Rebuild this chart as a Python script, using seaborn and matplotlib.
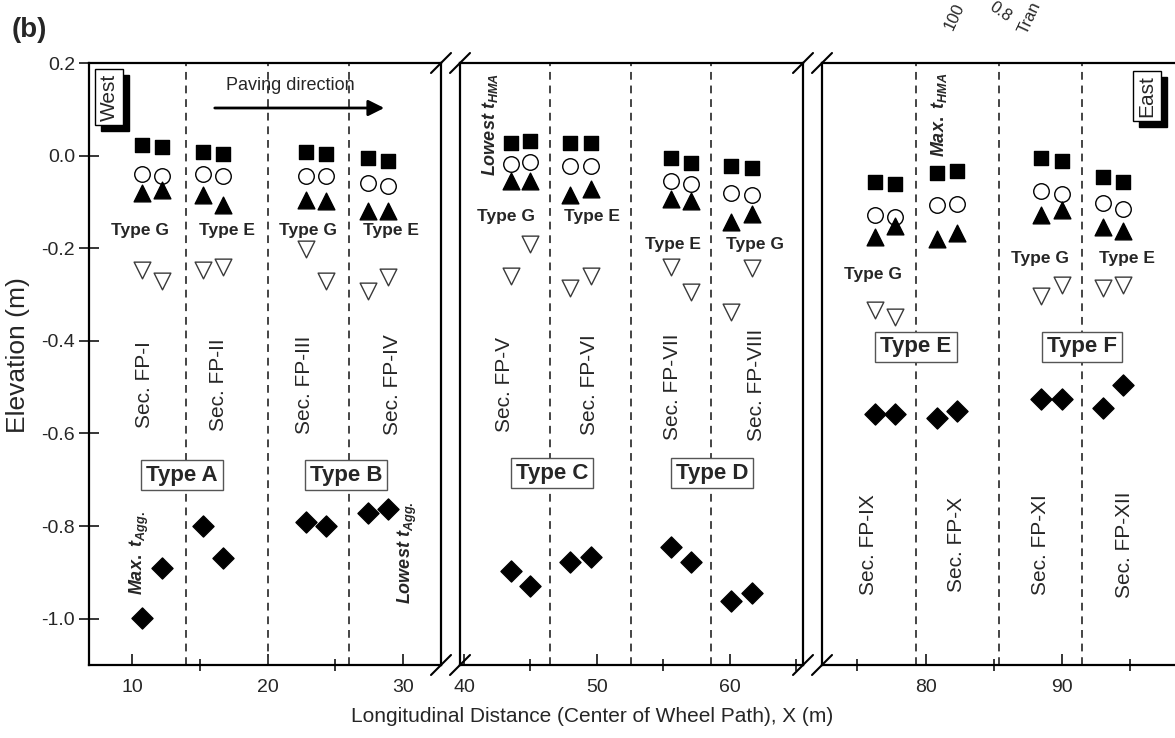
import numpy as np
import pandas as pd
import matplotlib
matplotlib.use("Agg")
import matplotlib.pyplot as plt
import seaborn as sns
from matplotlib.lines import Line2D
from matplotlib.patches import Rectangle, FancyArrowPatch
from matplotlib.ticker import FixedLocator, FormatStrFormatter

# ---------------- data ----------------
sections = ["FP-I", "FP-II", "FP-III", "FP-IV", "FP-V", "FP-VI", "FP-VII", "FP-VIII",
            "FP-IX", "FP-X", "FP-XI", "FP-XII"]
x_pos = [10.7, 12.2, 15.2, 16.7, 22.8, 24.3, 27.4, 28.9,
         43.5, 45.0, 48.0, 49.55, 55.55, 57.1, 60.1, 61.65,
         76.25, 77.75, 80.8, 82.3, 88.45, 90.0, 93.0, 94.5]
elev_square = [0.024, 0.018, 0.007, 0.004, 0.007, 0.004, -0.005, -0.011,
               0.027, 0.031, 0.027, 0.027, -0.006, -0.016, -0.022, -0.027,
               -0.058, -0.061, -0.037, -0.034, -0.006, -0.012, -0.047, -0.058]
elev_circle = [-0.040, -0.045, -0.040, -0.045, -0.043, -0.043, -0.060, -0.065,
               -0.018, -0.014, -0.023, -0.023, -0.054, -0.061, -0.081, -0.085,
               -0.128, -0.132, -0.107, -0.104, -0.077, -0.083, -0.103, -0.115]
elev_tri_up = [-0.081, -0.074, -0.085, -0.106, -0.096, -0.099, -0.119, -0.120,
               -0.054, -0.054, -0.086, -0.072, -0.094, -0.099, -0.144, -0.126,
               -0.175, -0.151, -0.180, -0.168, -0.128, -0.117, -0.155, -0.162]
elev_tri_down = [-0.247, -0.270, -0.247, -0.240, -0.202, -0.270, -0.292, -0.263,
                 -0.259, -0.190, -0.286, -0.259, -0.240, -0.294, -0.337, -0.243,
                 -0.334, -0.348, np.nan, np.nan, -0.303, -0.279, -0.286, -0.279]
elev_diamond = [-0.998, -0.891, -0.800, -0.868, -0.791, -0.800, -0.771, -0.764,
                -0.896, -0.930, -0.878, -0.867, -0.845, -0.877, -0.961, -0.944,
                -0.557, -0.559, -0.566, -0.551, -0.526, -0.526, -0.544, -0.495]
section_bounds = [14, 20, 26, 46.5, 52.55, 58.6, 79.3, 85.35, 91.45]
y_ticks = [-1.0, -0.8, -0.6, -0.4, -0.2, 0.0, 0.2]

df = pd.DataFrame({"x": x_pos, "square": elev_square, "circle": elev_circle,
                   "tri_up": elev_tri_up, "tri_down": elev_tri_down,
                   "diamond": elev_diamond})

# ---------------- style ----------------
sns.set_style("ticks")
plt.rcParams["font.family"] = ["Liberation Sans", "DejaVu Sans"]
plt.rcParams["axes.unicode_minus"] = False
plt.rcParams["mathtext.fontset"] = "custom"
plt.rcParams["mathtext.it"] = "Liberation Sans:italic:bold"
plt.rcParams["mathtext.rm"] = "Liberation Sans:bold"
plt.rcParams["mathtext.bf"] = "Liberation Sans:bold"

W, H = 1175, 738
fig = plt.figure(figsize=(W / 100, H / 100), dpi=100)


def fx(px):
    return px / W


def fy(py):
    return 1 - py / H


TOP, BOT = 63, 665
panels = [
    (89, 441, (6.8, 32.8), [10, 20, 30], [15, 25]),
    (460, 803, (39.7, 65.5), [40, 50, 60], [45, 55, 65]),
    (822, 1176, (72.4, 98.35), [80, 90], [75, 85, 95]),
]

series = [
    ("square", "s", "black", "black", 100),
    ("circle", "o", "white", "black", 125),
    ("tri_up", "^", "black", "black", 145),
    ("tri_down", "v", "white", "#3a3a3a", 145),
    ("diamond", "D", "black", "black", 115),
]

axes = []
for i, (l, r, xlim, majors, minors) in enumerate(panels):
    ax = fig.add_axes([fx(l), fy(BOT), (r - l) / W, (BOT - TOP) / H])
    sub = df[(df.x > xlim[0]) & (df.x < xlim[1])]
    for col, m, fc, ec, s in series:
        sns.scatterplot(data=sub, x="x", y=col, marker=m, s=s, color=fc,
                        edgecolor=ec, linewidth=1.0, ax=ax, legend=False, zorder=3)
    for b in section_bounds:
        if xlim[0] < b < xlim[1]:
            ax.axvline(b, color="#444444", lw=1.4, ls=(0, (4, 3)), zorder=1)
    ax.set_xlim(*xlim)
    ax.set_ylim(-1.1, 0.2)
    ax.set_xlabel("")
    ax.set_ylabel("")
    ax.xaxis.set_major_locator(FixedLocator(majors))
    ax.xaxis.set_minor_locator(FixedLocator(minors))
    ax.tick_params(axis="x", which="major", direction="in", length=8, width=1.3,
                   labelsize=14, pad=10, top=False)
    ax.tick_params(axis="x", which="minor", direction="inout", length=9, width=1.3,
                   top=False)
    if i == 0:
        ax.set_yticks(y_ticks)
        ax.yaxis.set_major_formatter(FormatStrFormatter("%.1f"))
        ax.tick_params(axis="y", direction="inout", length=14, width=1.3,
                       labelsize=14, pad=3, right=False)
    else:
        ax.set_yticks([])
    for sp in ax.spines.values():
        sp.set_linewidth(1.6)
        sp.set_color("black")
        sp.set_visible(True)
    if i == 2:
        ax.spines["right"].set_visible(False)
    axes.append(ax)

# break marks
for bx in [441, 460, 803, 822]:
    for by in [TOP, BOT]:
        fig.add_artist(Line2D([fx(bx - 10), fx(bx + 10)], [fy(by + 10), fy(by - 10)],
                              transform=fig.transFigure, color="black", lw=1.5))

# axis labels
fig.text(fx(18), fy(355), "Elevation (m)", rotation=90, ha="center", va="center",
         fontsize=19)
fig.text(fx(592), fy(717), "Longitudinal Distance (Center of Wheel Path), X (m)",
         ha="center", va="center", fontsize=15)
fig.text(fx(12), fy(30), "(b)", ha="left", va="center", fontsize=20, fontweight="bold")

# top-right fragments of neighbouring figure
fig.text(fx(955), fy(17), "100", rotation=65, ha="center", va="center", fontsize=12)
fig.text(fx(1000), fy(12), "0.8", rotation=-35, ha="center", va="center", fontsize=12)
fig.text(fx(1030), fy(18), "Tran", rotation=65, ha="center", va="center", fontsize=12)

# type labels (small bold)
type_small = [("Type G", 140, 230), ("Type E", 227, 230), ("Type G", 308, 230),
              ("Type E", 391, 230), ("Type G", 506, 217), ("Type E", 592, 217),
              ("Type E", 673, 245), ("Type G", 755, 245), ("Type G", 873, 275),
              ("Type G", 1040, 258), ("Type E", 1127, 258)]
for t, px, py in type_small:
    fig.text(fx(px), fy(py), t, ha="center", va="center", fontsize=12.5,
             fontweight="bold")

# section labels
sec_pos = [(145, 385), (218, 385), (305, 385), (392, 385), (505, 385), (590, 385),
           (672, 387), (757, 385), (868, 545), (957, 545), (1041, 545), (1125, 545)]
for name, (px, py) in zip(sections, sec_pos):
    fig.text(fx(px), fy(py), "Sec. " + name, rotation=90, ha="center", va="center",
             fontsize=15)

# boxed type labels
type_box = [("Type A", 182, 475), ("Type B", 346, 475), ("Type C", 552, 473),
            ("Type D", 712, 473), ("Type E", 916, 347), ("Type F", 1082, 347)]
for t, px, py in type_box:
    fig.text(fx(px), fy(py), t, ha="center", va="center", fontsize=16,
             fontweight="bold",
             bbox=dict(boxstyle="square,pad=0.22", fc="white", ec="#555555", lw=1.0))

# West / East boxes with shadow
side_texts = []
for t, px, py in [("West", 109, 97), ("East", 1147, 96)]:
    txt = fig.text(fx(px), fy(py), t, rotation=90, ha="center", va="center",
                   fontsize=15, zorder=5,
                   bbox=dict(boxstyle="square,pad=0.2", fc="white", ec="black",
                             lw=1.0))
    side_texts.append(txt)
fig.canvas.draw()
for txt in side_texts:
    bb = txt.get_bbox_patch().get_window_extent()
    inv = fig.transFigure.inverted()
    (x0, y0), (x1, y1) = inv.transform([[bb.x0 + 6, bb.y0 - 6], [bb.x1 + 6, bb.y1 - 6]])
    fig.add_artist(Rectangle((x0, y0), x1 - x0, y1 - y0, transform=fig.transFigure,
                             fc="black", ec="black", zorder=4))

# paving direction
fig.text(fx(290), fy(85), "Paving direction", ha="center", va="center", fontsize=13)
fig.add_artist(FancyArrowPatch(
    (fx(212), fy(108)), (fx(387), fy(108)), transform=fig.transFigure,
    arrowstyle="-|>", mutation_scale=24, lw=2.0, color="black"))

# italic notes
notes = [(r"$Max.\ t_{Agg.}$", 139, 553), (r"$Lowest\ t_{Agg.}$", 407, 553),
         (r"$Lowest\ t_{HMA}$", 490, 124), (r"$Max.\ t_{HMA}$", 939, 115)]
for t, px, py in notes:
    fig.text(fx(px), fy(py), t, rotation=90, ha="center", va="center", fontsize=13)

fig.savefig("out.png", dpi=100)
